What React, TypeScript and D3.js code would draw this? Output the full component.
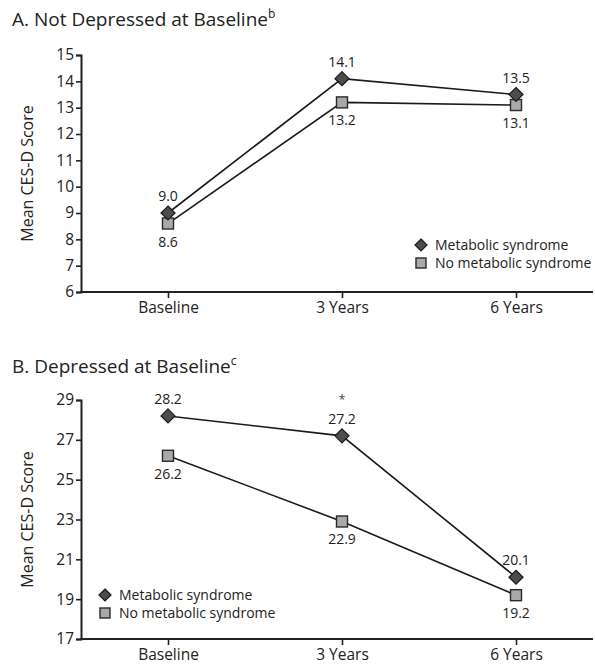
import React, { useEffect, useRef } from 'react';
import * as d3 from 'd3';

// timepoints on the x axis
const timepoints = ['Baseline', '3 Years', '6 Years'];

// panel A: not depressed at baseline
const notDepMetabolic = [9.0, 14.1, 13.5];
const notDepNoMetabolic = [8.6, 13.2, 13.1];
const notDepTicks = [6, 7, 8, 9, 10, 11, 12, 13, 14, 15];

// panel B: depressed at baseline
const depMetabolic = [28.2, 27.2, 20.1];
const depNoMetabolic = [26.2, 22.9, 19.2];
const depTicks = [17, 19, 21, 23, 25, 27, 29];
const depStars = ['', '*', ''];

const seriesNames = ['Metabolic syndrome', 'No metabolic syndrome'];

const FONT = "'Open Sans', 'DejaVu Sans', sans-serif";
const INK = '#222';

const drawDiamond = (g, x, y, r) =>
  g
    .append('path')
    .attr('d', `M${x},${y - r}L${x + r},${y}L${x},${y + r}L${x - r},${y}Z`)
    .attr('fill', '#4d4d4d')
    .attr('stroke', '#1a1a1a')
    .attr('stroke-width', 1.2);

const drawSquare = (g, x, y, s) =>
  g
    .append('rect')
    .attr('x', x - s / 2)
    .attr('y', y - s / 2)
    .attr('width', s)
    .attr('height', s)
    .attr('fill', '#a9a9a9')
    .attr('stroke', '#2a2a2a')
    .attr('stroke-width', 1.4);

const drawPanel = (svg, opts) => {
  const { title, sup, titleY, top, bottom, ticks, metabolic, noMetabolic, legend, legendGap, stars } = opts;
  const axisX = 81;
  const axisRight = 593;

  const x = d3.scalePoint().domain(timepoints).range([168, 516]);
  const y = d3.scaleLinear().domain([ticks[0], ticks[ticks.length - 1]]).range([bottom, top]);

  const g = svg.append('g').attr('font-family', FONT).attr('fill', INK);

  // title with superscript
  const t = g
    .append('text')
    .attr('x', 12)
    .attr('y', titleY)
    .attr('font-size', 19)
    .attr('fill', INK);
  t.append('tspan').text(title);
  t.append('tspan').attr('font-size', 12).attr('dy', -8).text(sup);

  // y axis
  const ya = g
    .append('g')
    .attr('transform', `translate(${axisX},0)`)
    .call(d3.axisLeft(y).tickValues(ticks).tickSizeOuter(0).tickSize(5).tickPadding(2));
  ya.select('.domain').attr('stroke', INK).attr('stroke-width', 2);
  ya.selectAll('.tick line').attr('stroke', INK).attr('stroke-width', 1.6);
  ya.selectAll('.tick text').attr('font-size', 15.5).attr('font-family', FONT).attr('fill', INK);

  // x axis
  g.append('line')
    .attr('x1', axisX - 1)
    .attr('x2', axisRight)
    .attr('y1', bottom)
    .attr('y2', bottom)
    .attr('stroke', INK)
    .attr('stroke-width', 2);
  const xa = g
    .append('g')
    .attr('transform', `translate(0,${bottom})`)
    .call(d3.axisBottom(x).tickSize(6).tickPadding(4));
  xa.select('.domain').remove();
  xa.selectAll('.tick line').attr('stroke', INK).attr('stroke-width', 1.6);
  xa.selectAll('.tick text').attr('font-size', 15.5).attr('font-family', FONT).attr('fill', INK);

  // y axis label
  g.append('text')
    .attr('transform', `translate(33,${(top + bottom) / 2}) rotate(-90)`)
    .attr('text-anchor', 'middle')
    .attr('font-size', 16)
    .text('Mean CES-D Score');

  const line = d3
    .line()
    .x((d, i) => x(timepoints[i]))
    .y((d) => y(d));

  [noMetabolic, metabolic].forEach((s) => {
    g.append('path')
      .datum(s)
      .attr('d', line)
      .attr('fill', 'none')
      .attr('stroke', '#1a1a1a')
      .attr('stroke-width', 1.6);
  });

  noMetabolic.forEach((v, i) => {
    const px = x(timepoints[i]);
    drawSquare(g, px, y(v), 11);
    g.append('text')
      .attr('x', px)
      .attr('y', y(v) + 23)
      .attr('text-anchor', 'middle')
      .attr('font-size', 14)
      .text(v.toFixed(1));
  });

  metabolic.forEach((v, i) => {
    const px = x(timepoints[i]);
    drawDiamond(g, px, y(v), 7);
    g.append('text')
      .attr('x', px)
      .attr('y', y(v) - 12)
      .attr('text-anchor', 'middle')
      .attr('font-size', 14)
      .text(v.toFixed(1));
    if (stars && stars[i]) {
      g.append('text')
        .attr('x', px)
        .attr('y', y(v) - 32)
        .attr('text-anchor', 'middle')
        .attr('font-size', 12)
        .attr('fill', '#444')
        .text(stars[i]);
    }
  });

  // legend
  const lg = g.append('g').attr('transform', `translate(${legend[0]},${legend[1]})`);
  drawDiamond(lg, 0, 0, 6);
  drawSquare(lg, 0, legendGap, 10);
  seriesNames.forEach((n, i) => {
    lg.append('text')
      .attr('x', 14)
      .attr('y', i * legendGap + 5)
      .attr('font-size', 14)
      .text(n);
  });
};

const App = () => {
  const svgRef = useRef();

  useEffect(() => {
    const svg = d3.select(svgRef.current);

    drawPanel(svg, {
      title: 'A. Not Depressed at Baseline',
      sup: 'b',
      titleY: 26,
      top: 55,
      bottom: 292,
      ticks: notDepTicks,
      metabolic: notDepMetabolic,
      noMetabolic: notDepNoMetabolic,
      legend: [421, 245],
      legendGap: 18,
    });

    drawPanel(svg, {
      title: 'B. Depressed at Baseline',
      sup: 'c',
      titleY: 373,
      top: 400,
      bottom: 639,
      ticks: depTicks,
      metabolic: depMetabolic,
      noMetabolic: depNoMetabolic,
      legend: [105, 595],
      legendGap: 18,
      stars: depStars,
    });

    return () => {
      svg.selectAll('*').remove();
    };
  }, []);

  return (
    <svg
      ref={svgRef}
      width={595}
      height={669}
      style={{ position: 'absolute', left: 0, top: 0, background: '#fff' }}
    ></svg>
  );
};

export default App;
